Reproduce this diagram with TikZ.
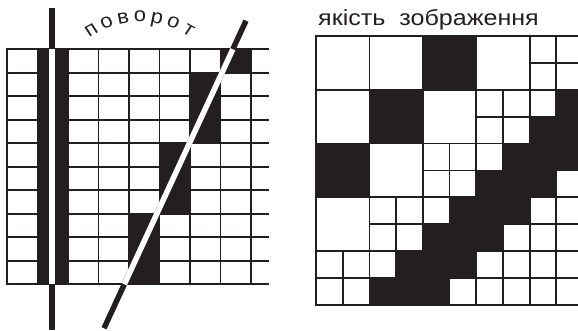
\documentclass[tikz,border=0pt]{standalone}
\usepackage{fontspec}
\setmainfont{Liberation Sans}
\usepackage{xcolor}
\definecolor{ink}{HTML}{231F20}
\usetikzlibrary{calc}

\begin{document}
\begin{tikzpicture}[
    x=1pt, y=-1pt,
    gridline/.style={line width=1.8pt, draw=ink, line cap=rect},
    cell/.style={draw=ink, line width=1.8pt, fill=white},
    blackcell/.style={fill=ink},
    axisline/.style={line width=5.5pt, draw=ink},
    cutline/.style={line width=5.5pt, draw=white},
    caption/.style={font=\fontsize{22}{26}\selectfont, text=ink, inner sep=0pt, xscale=1.14},
    arcletter/.style={font=\fontsize{20}{24}\selectfont, text=ink, inner sep=0pt, xscale=1.1}
]

\useasboundingbox (0,0) rectangle (578,331);

% ===== Left grid: rotation =====

% Black cells
\fill[blackcell] (37.5,49.3) rectangle (68,284.3);
\fill[blackcell] (220.5,49.3) rectangle (251,72.8);
\fill[blackcell] (190,72.8) rectangle (220.5,143.3);
\fill[blackcell] (159.5,143.3) rectangle (190,213.8);
\fill[blackcell] (129,213.8) rectangle (159.5,284.3);

% Grid lines
\foreach \i in {0,...,8}
    \draw[gridline] ({7+30.5*\i},49.3) -- ({7+30.5*\i},284.3);
\foreach \j in {0,...,10}
    \draw[gridline, line cap=butt] (7,{49.3+23.5*\j}) -- (269,{49.3+23.5*\j});

% Vertical axis
\coordinate (axtop) at (52.2,8);
\coordinate (axbot) at (52.2,330);
\coordinate (axin) at (52.2,49.3);
\coordinate (axout) at (52.2,284.3);
\draw[axisline] (axtop) -- (axbot);
\draw[cutline] (axin) -- (axout);

% Rotated axis
\coordinate (dgtop) at (246,20.7);
\coordinate (dgbot) at (104,328.3);
\coordinate (dgin) at ($(dgtop)!{(49.3-20.7)/(328.3-20.7)}!(dgbot)$);
\coordinate (dgout) at ($(dgtop)!{(284.3-20.7)/(328.3-20.7)}!(dgbot)$);
\draw[axisline] (dgtop) -- (dgbot);
\draw[cutline] (dgin) -- (dgout);

% Curved label
\foreach \ch [count=\i] in {п,о,в,о,р,о,т}
    \node[arcletter, anchor=base, rotate={-(\i-4)*10.2}] (turn\i)
        at ($(140,112)+({(\i-4)*10.2-90}:90)$) {\ch};

% ===== Right grid: image quality =====
\node[caption, anchor=base west] (quality) at (318,26) {якість~~зображення};

\begin{scope}
\clip (0,0) rectangle (578,331);
\fill[blackcell] (316,36) rectangle (590,305);

% Large cells
\foreach \c/\r in {0/0,2/0,6/0,0/2,4/2,2/4,0/6}
    \draw[cell] ({316+26.7*\c},{36+26.9*\r}) rectangle ++(53.4,53.8);

% Small cells
\foreach \c/\r in {8/0,9/0,8/1,9/1,6/2,7/2,8/2,6/3,7/3,4/4,5/4,6/4,4/5,5/5,9/5,
                   2/6,3/6,4/6,8/6,9/6,2/7,3/7,7/7,8/7,9/7,
                   0/8,1/8,2/8,6/8,7/8,8/8,9/8,0/9,1/9,5/9,6/9,7/9,8/9,9/9}
    \draw[cell] ({316+26.7*\c},{36+26.9*\r}) rectangle ++(26.7,26.9);

% Frame
\draw[gridline] (590,36) -| (316,305) -- (590,305);
\end{scope}

\end{tikzpicture}
\end{document}
